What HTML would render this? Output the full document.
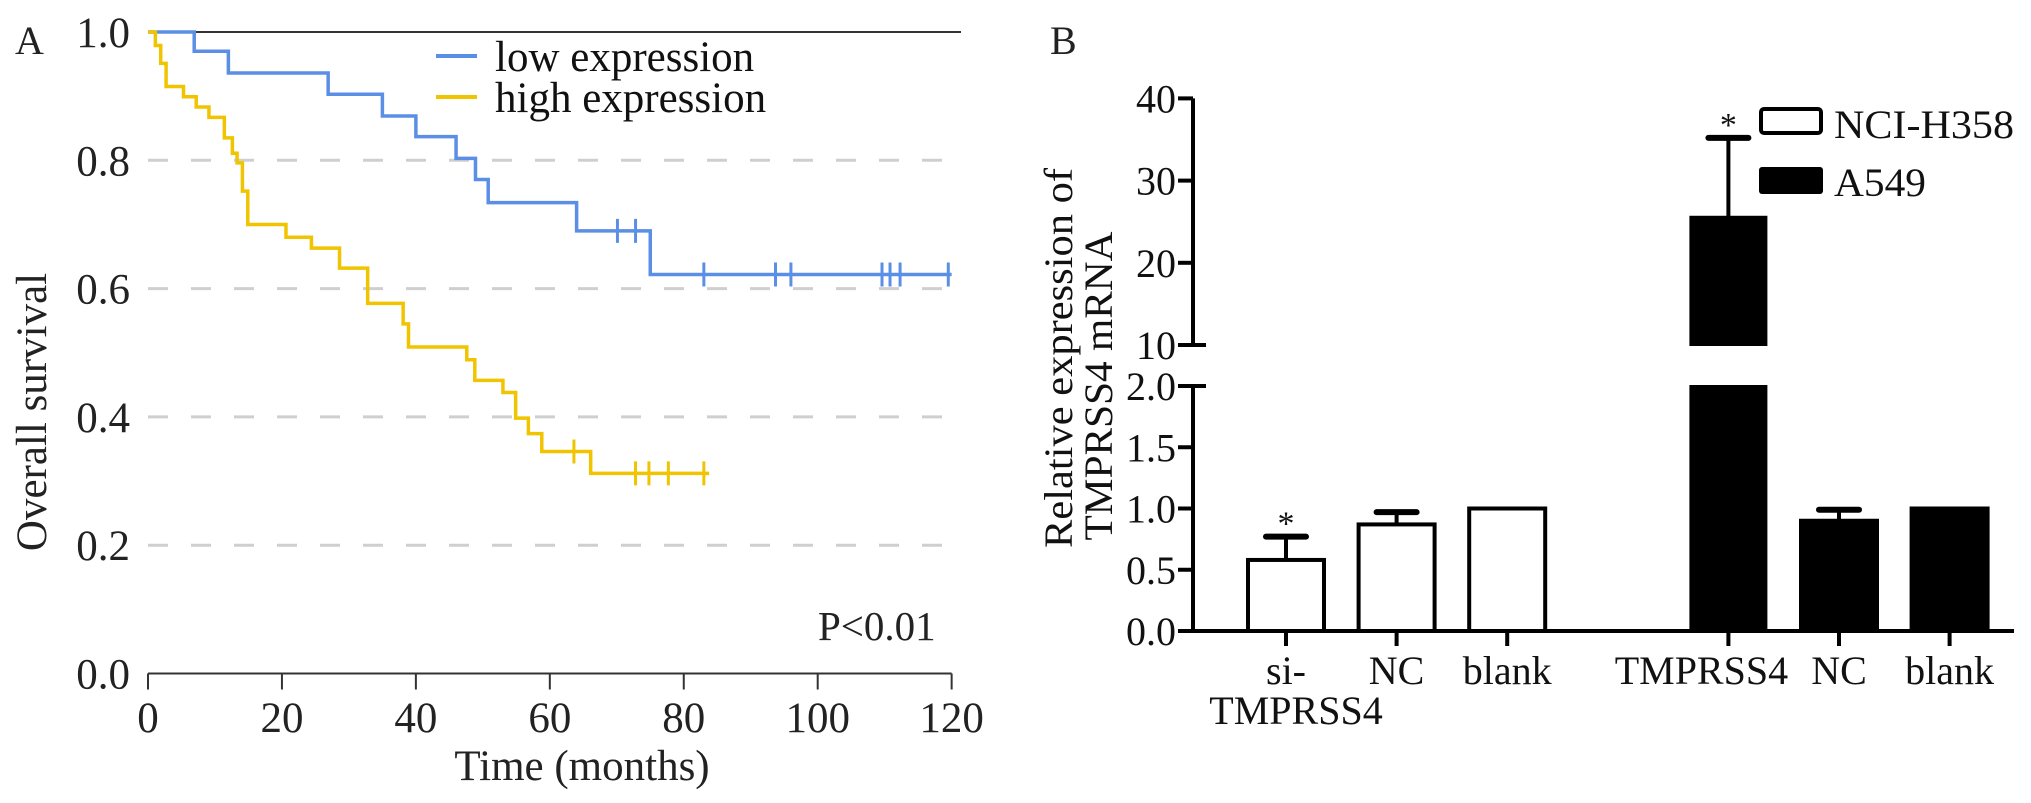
<!DOCTYPE html>
<html><head><meta charset="utf-8"><style>
html,body{margin:0;padding:0;background:#fff;}
svg{display:block;font-family:"Liberation Serif",serif;}
</style></head><body>
<svg id="fig" width="2031" height="803" viewBox="0 0 2031 803" xmlns="http://www.w3.org/2000/svg">
<g id="panelA"></g>
<g id="panelB"></g>
</svg>
<script>
// ---------- Panel A data ----------
const blueTimes = [6.9, 12, 26.9, 35, 40, 46, 48.9, 50.8, 64, 75];
const blueSurv = [0.970, 0.936, 0.903, 0.869, 0.837, 0.803, 0.770, 0.734, 0.690, 0.622];
const blueCensor = [70.1, 72.8, 83, 93.7, 96, 109.6, 110.8, 112.3, 119.5];
const blueEnd = 120;
const yellowTimes = [1.1, 1.9, 2.7, 5.3, 7.2, 9.1, 11.4, 12.6, 13.3, 14.1, 14.9, 20.6, 24.4, 28.6, 32.8, 38.1, 38.9, 47.6, 48.8, 53, 54.9, 56.8, 58.8, 66.1];
const yellowSurv = [0.979, 0.951, 0.915, 0.899, 0.883, 0.867, 0.835, 0.811, 0.796, 0.752, 0.700, 0.680, 0.663, 0.632, 0.577, 0.545, 0.509, 0.489, 0.457, 0.438, 0.398, 0.374, 0.346, 0.312];
const yellowCensor = [63.6, 72.8, 74.8, 77.7, 83];
const yellowEnd = 83.8;
const aXTicks = [0, 20, 40, 60, 80, 100, 120];
const aYTicks = [0.0, 0.2, 0.4, 0.6, 0.8, 1.0];
const aYTickLabels = ["0.0", "0.2", "0.4", "0.6", "0.8", "1.0"];

// ---------- Panel B data ----------
const bCategories = ["si-TMPRSS4", "NC", "blank", "TMPRSS4", "NC", "blank"];
const bSlots = [0, 1, 2, 4, 5, 6];
const bGroups = ["NCI-H358", "NCI-H358", "NCI-H358", "A549", "A549", "A549"];
const bValues = [0.58, 0.87, 1.0, 25.6, 0.90, 1.0];
const bErrors = [0.19, 0.10, 0, 9.6, 0.09, 0];
const bStars = [true, false, false, true, false, false];
const bLowTicks = [0.0, 0.5, 1.0, 1.5, 2.0];
const bLowTickLabels = ["0.0", "0.5", "1.0", "1.5", "2.0"];
const bHighTicks = [10, 20, 30, 40];
const bHighTickLabels = ["10", "20", "30", "40"];

const NS = "http://www.w3.org/2000/svg";
function mk(tag, attrs, parent, text) {
  const e = document.createElementNS(NS, tag);
  for (const k in attrs) e.setAttribute(k, attrs[k]);
  if (text !== undefined) e.textContent = text;
  parent.appendChild(e);
  return e;
}

// ===== Panel A =====
const A = document.getElementById('panelA');
const ax = t => 148 + t * 6.697;
const ay = s => 673.5 - s * 641.5;

aYTicks.forEach(v => {
  if (v > 0 && v < 1) {
    const g = mk('line', {x1: ax(0), x2: ax(120), y1: ay(v), y2: ay(v), stroke: '#cfcfcf', 'stroke-width': 3, 'stroke-dasharray': '20 23'}, A);
    
    
  }
});
const topLine = mk('line', {x1: ax(0), x2: 961, y1: ay(1), y2: ay(1), stroke: '#333', 'stroke-width': 2}, A);


const xAxisA = mk('line', {x1: ax(0), x2: ax(120), y1: ay(0), y2: ay(0), stroke: '#333', 'stroke-width': 2}, A);


aXTicks.forEach(t => {
  const tk = mk('line', {x1: ax(t), x2: ax(t), y1: ay(0), y2: ay(0) + 16, stroke: '#333', 'stroke-width': 2}, A);
  
  
  const lb = mk('text', {x: ax(t), y: 732, 'font-size': 43, 'text-anchor': 'middle', fill: '#222'}, A, String(t));
  
  
});
aYTicks.forEach((v, i) => {
  const lb = mk('text', {x: 130, y: ay(v) + 15, 'font-size': 43, 'text-anchor': 'end', fill: '#222'}, A, aYTickLabels[i]);
  
  
});

function km(times, surv, end, color, name) {
  let d = 'M' + ax(0) + ' ' + ay(1);
  times.forEach((t, i) => {
    d += ' H' + ax(t) + ' V' + ay(surv[i]);
  });
  d += ' H' + ax(end);
  const p = mk('path', {d: d, fill: 'none', stroke: color, 'stroke-width': 3.5}, A);
  
  
}
function survAt(times, surv, t) {
  let s = 1;
  times.forEach((tt, i) => { if (tt <= t) s = surv[i]; });
  return s;
}
function censors(list, times, surv, color, name) {
  list.forEach(t => {
    const y = ay(survAt(times, surv, t));
    const c = mk('line', {x1: ax(t), x2: ax(t), y1: y - 12, y2: y + 12, stroke: color, 'stroke-width': 3}, A);
    
    
  });
}
km(blueTimes, blueSurv, blueEnd, '#5b8fe6', 'low-expression-curve');
censors(blueCensor, blueTimes, blueSurv, '#5b8fe6', 'low-expression-censor-mark');
km(yellowTimes, yellowSurv, yellowEnd, '#f0c400', 'high-expression-curve');
censors(yellowCensor, yellowTimes, yellowSurv, '#f0c400', 'high-expression-censor-mark');

const l1 = mk('line', {x1: 436, x2: 477, y1: 56, y2: 56, stroke: '#5b8fe6', 'stroke-width': 4}, A);


const t1 = mk('text', {x: 495, y: 71, 'font-size': 43, fill: '#111'}, A, 'low expression');


const l2 = mk('line', {x1: 436, x2: 477, y1: 97, y2: 97, stroke: '#f0c400', 'stroke-width': 4}, A);


const t2 = mk('text', {x: 495, y: 112, 'font-size': 43, fill: '#111'}, A, 'high expression');



const pa = mk('text', {x: 15, y: 54, 'font-size': 40, fill: '#222'}, A, 'A');


const pv = mk('text', {x: 818, y: 640, 'font-size': 41, fill: '#222'}, A, 'P<0.01');


const xt = mk('text', {x: 582, y: 780, 'font-size': 43, 'text-anchor': 'middle', fill: '#222'}, A, 'Time (months)');


const yt = mk('text', {x: 0, y: 0, 'font-size': 43, 'text-anchor': 'middle', fill: '#222', transform: 'translate(46,412) rotate(-90)'}, A, 'Overall survival');



// ===== Panel B =====
const B = document.getElementById('panelB');
const axB = 1193, y0 = 631, lowScale = 122.5, y10 = 345, highScale = 8.22;
const byLow = v => y0 - v * lowScale;
const byHigh = v => y10 - (v - 10) * highScale;
const byVal = v => v <= 2 ? byLow(v) : byHigh(Math.max(v, 10));
const bx = slot => 1286 + slot * 110.6;
const bw = 76;
const labelShift = [0, 0, 0, -27, 0, 0];

const ax1 = mk('line', {x1: axB, x2: axB, y1: y0 + 2, y2: byLow(2), stroke: '#000', 'stroke-width': 4}, B);


const ax2 = mk('line', {x1: axB, x2: axB, y1: byHigh(10), y2: byHigh(40), stroke: '#000', 'stroke-width': 4}, B);


const bxAxis = mk('line', {x1: 1178, x2: 2014, y1: y0, y2: y0, stroke: '#000', 'stroke-width': 4}, B);



bLowTicks.forEach((v, i) => {
  const x2 = (v === 2) ? axB + 13 : axB;
  const tk = mk('line', {x1: 1178, x2: x2, y1: byLow(v), y2: byLow(v), stroke: '#000', 'stroke-width': 4}, B);
  
  
  const lb = mk('text', {x: 1176, y: byLow(v) + 14, 'font-size': 40, 'text-anchor': 'end', fill: '#111'}, B, bLowTickLabels[i]);
  
  
});
bHighTicks.forEach((v, i) => {
  const x2 = (v === 10) ? axB + 13 : axB;
  const tk = mk('line', {x1: 1178, x2: x2, y1: byHigh(v), y2: byHigh(v), stroke: '#000', 'stroke-width': 4}, B);
  
  
  const lb = mk('text', {x: 1176, y: byHigh(v) + 14, 'font-size': 40, 'text-anchor': 'end', fill: '#111'}, B, bHighTickLabels[i]);
  
  
});

bValues.forEach((v, i) => {
  const cx = bx(bSlots[i]);
  const filled = bGroups[i] === 'A549';
  const tk = mk('line', {x1: cx, x2: cx, y1: y0, y2: y0 + 15, stroke: '#000', 'stroke-width': 4}, B);
  
  
  if (v <= 2) {
    const r = mk('rect', {x: cx - bw / 2, y: byLow(v), width: bw, height: y0 - byLow(v), fill: filled ? '#000' : '#fff', stroke: '#000', 'stroke-width': 4}, B);
    
    
  } else {
    const r1 = mk('rect', {x: cx - bw / 2, y: byLow(2), width: bw, height: y0 - byLow(2), fill: filled ? '#000' : '#fff', stroke: '#000', 'stroke-width': 2}, B);
    
    
    const r2 = mk('rect', {x: cx - bw / 2, y: byHigh(v), width: bw, height: byHigh(10) - byHigh(v), fill: filled ? '#000' : '#fff', stroke: '#000', 'stroke-width': 2}, B);
    
    
  }
  if (bErrors[i] > 0) {
    const yt0 = byVal(v), yt1 = byVal(v + bErrors[i]);
    const el = mk('line', {x1: cx, x2: cx, y1: yt0, y2: yt1, stroke: '#000', 'stroke-width': 4}, B);
    
    
    const cap = mk('line', {x1: cx - 20, x2: cx + 20, y1: yt1, y2: yt1, stroke: '#000', 'stroke-width': 6, 'stroke-linecap': 'round'}, B);
    
    
    if (bStars[i]) {
      const st = mk('text', {x: cx, y: yt1 - 2, 'font-size': 34, 'text-anchor': 'middle', fill: '#111'}, B, '*');
      
      
    }
  }
  const lines = bCategories[i] === 'si-TMPRSS4' ? ['si-', 'TMPRSS4'] : [bCategories[i]];
  lines.forEach((txt, j) => {
    const lb = mk('text', {x: (j === 0 ? cx : cx + 10) + labelShift[i], y: 684 + j * 40, 'font-size': 40, 'text-anchor': 'middle', fill: '#111'}, B, txt);
    
    
  });
});

const lb1 = mk('rect', {x: 1761, y: 109, width: 60, height: 24, rx: 3, fill: '#fff', stroke: '#000', 'stroke-width': 4}, B);


const lt1 = mk('text', {x: 1834, y: 138, 'font-size': 40, fill: '#111', textLength: 180, lengthAdjust: 'spacingAndGlyphs'}, B, 'NCI-H358');


const lb2 = mk('rect', {x: 1759, y: 167, width: 64, height: 27, rx: 3, fill: '#000'}, B);


const lt2 = mk('text', {x: 1834, y: 196, 'font-size': 40, fill: '#111', textLength: 92, lengthAdjust: 'spacingAndGlyphs'}, B, 'A549');



const pb = mk('text', {x: 1050, y: 54, 'font-size': 40, fill: '#222'}, B, 'B');


const yb1 = mk('text', {x: 0, y: 0, 'font-size': 40, 'text-anchor': 'middle', fill: '#111', textLength: 380, lengthAdjust: 'spacingAndGlyphs', transform: 'translate(1072,358) rotate(-90)'}, B, 'Relative expression of');


const yb2 = mk('text', {x: 0, y: 0, 'font-size': 40, 'text-anchor': 'middle', fill: '#111', textLength: 309, lengthAdjust: 'spacingAndGlyphs', transform: 'translate(1112,386) rotate(-90)'}, B, 'TMPRSS4 mRNA');


</script>
</body></html>
